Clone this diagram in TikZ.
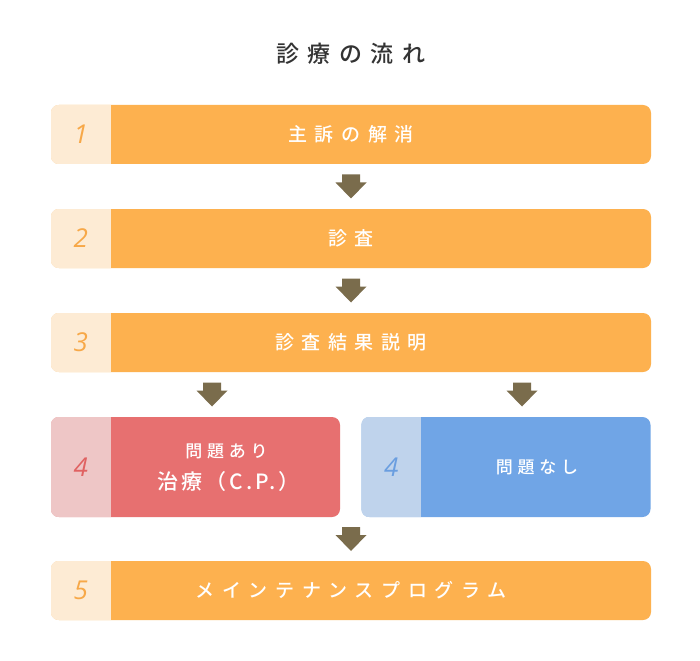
\documentclass[tikz,border=0pt]{standalone}
\usepackage{fontspec}
\usetikzlibrary{calc}
\newfontfamily\jpbox{Noto Sans CJK JP Medium}[LetterSpace=40]
\newfontfamily\jptitle{Noto Sans CJK JP Medium}[LetterSpace=37]
\newfontfamily\jpsub{Noto Sans CJK JP Medium}[LetterSpace=28]
\newfontfamily\jpsubb{Noto Sans CJK JP Medium}[LetterSpace=14]
\newfontfamily\numf{Open Sans}
\definecolor{org}{HTML}{FDB14F}
\definecolor{lorg}{HTML}{FDEBD4}
\definecolor{norg}{HTML}{F7A848}
\definecolor{redc}{HTML}{E77070}
\definecolor{lred}{HTML}{EEC6C6}
\definecolor{nred}{HTML}{E06262}
\definecolor{bluec}{HTML}{70A5E6}
\definecolor{lblue}{HTML}{BFD3EC}
\definecolor{nblue}{HTML}{6A9EE0}
\definecolor{arrc}{HTML}{7A6C4C}
\definecolor{titlec}{HTML}{333333}
\tikzset{
  box/.style={rounded corners=8pt, minimum height=59pt, minimum width=600pt, inner sep=0pt,
    text=white, font=\jpbox\fontsize{19}{22}\selectfont},
  halfbox/.style={rounded corners=8pt, minimum height=100pt, minimum width=289pt, inner sep=0pt},
  numtxt/.style={inner sep=0pt, font=\numf\itshape\fontsize{26}{28}\selectfont},
  subtxt/.style={inner sep=0pt, text=white},
  darrow/.pic={\fill[arrc] (-9,-12) -- (9,-12) -- (9,-4) -- (15.5,-4) -- (0,12) -- (-15.5,-4) -- (-9,-4) -- cycle;}
}
\newcommand{\numsection}[2]{%
  \begin{scope}
    \clip[rounded corners=8pt] (#1.north west) rectangle (#1.south east);
    \fill[#2] (#1.north west) rectangle ($(#1.south west)+(60,0)$);
  \end{scope}}
\begin{document}
\begin{tikzpicture}[x=1pt,y=-1pt]
\useasboundingbox (0,0) rectangle (700,660);
\fill[white] (0,0) rectangle (700,660);

\node[inner sep=0pt, text=titlec, font=\jptitle\fontsize{23}{26}\selectfont] (title) at (351,54) {診療の流れ};

\node[box, fill=org] (b1) at (351,134.5) {主訴の解消};
\numsection{b1}{lorg}
\node[numtxt, text=norg] (n1) at ($(b1.west)+(30,0)$) {1};

\node[box, fill=org] (b2) at (351,238.5) {診査};
\numsection{b2}{lorg}
\node[numtxt, text=norg] (n2) at ($(b2.west)+(30,0)$) {2};

\node[box, fill=org] (b3) at (351,342.5) {診査結果説明};
\numsection{b3}{lorg}
\node[numtxt, text=norg] (n3) at ($(b3.west)+(30,0)$) {3};

\node[halfbox, fill=redc] (b4a) at (195.5,467) {};
\numsection{b4a}{lred}
\node[numtxt, text=nred] (n4a) at ($(b4a.west)+(30,0)$) {4};
\node[subtxt, font=\jpsub\fontsize{17}{20}\selectfont] (t4a1) at ($(b4a.center)+(31,-16)$) {問題あり};
\node[subtxt, font=\jpsubb\fontsize{21}{24}\selectfont] (t4a2) at ($(b4a.center)+(33,14.5)$) {治療（C.P.）};

\node[halfbox, fill=bluec] (b4b) at (506,467) {};
\numsection{b4b}{lblue}
\node[numtxt, text=nblue] (n4b) at ($(b4b.west)+(30,0)$) {4};
\node[subtxt, font=\jpsub\fontsize{17}{20}\selectfont] (t4b) at ($(b4b.center)+(31,0)$) {問題なし};

\node[box, fill=org] (b5) at (351,590.5) {メインテナンスプログラム};
\numsection{b5}{lorg}
\node[numtxt, text=norg] (n5) at ($(b5.west)+(30,0)$) {5};

\coordinate (m12) at ($(b1.south)!0.5!(b2.north)$);
\coordinate (m23) at ($(b2.south)!0.5!(b3.north)$);
\coordinate (m34) at ($(b3.south)!0.5!(b4a.north -| b3.south)$);
\coordinate (m45) at ($(b4a.south -| b5.north)!0.5!(b5.north)$);
\pic at (m12) {darrow};
\pic at (m23) {darrow};
\pic at ($(m34)+(-139,0)$) {darrow};
\pic at ($(m34)+(171,0)$) {darrow};
\pic at (m45) {darrow};
\end{tikzpicture}
\end{document}
